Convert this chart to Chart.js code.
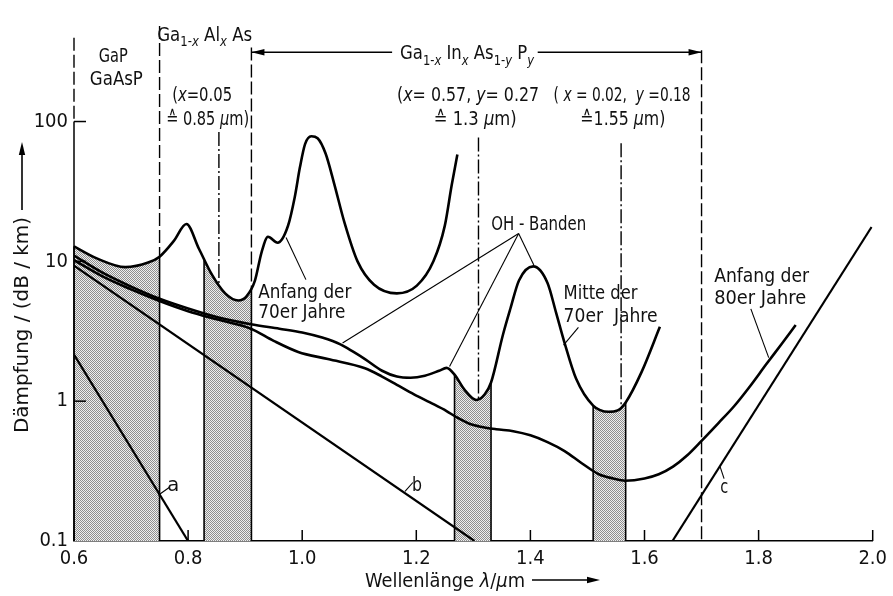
<!DOCTYPE html>
<html>
<head>
<meta charset="utf-8">
<script src="https://cdn.jsdelivr.net/npm/chart.js@4.4.1/dist/chart.umd.min.js"></script>
<style>
  html, body { margin: 0; padding: 0; background: #fff; }
</style>
</head>
<body>
<canvas id="chart" width="893" height="596"></canvas>
<script>
// axis ticks
const xTicks = [0.6, 0.8, 1.0, 1.2, 1.4, 1.6, 1.8, 2.0];
const xTickLabels = ['0.6', '0.8', '1.0', '1.2', '1.4', '1.6', '1.8', '2.0'];
const yTicks = [0.1, 1, 10, 100];
const yTickLabels = ['0.1', '1', '10', '100'];

// wavelength in µm, attenuation in dB/km
const early70Wl = [0.600, 0.640, 0.690, 0.730, 0.750, 0.775, 0.797, 0.819, 0.842, 0.865, 0.888, 0.902, 0.917, 0.929, 0.940, 0.957, 0.975, 0.987, 0.996, 1.005, 1.016, 1.027, 1.041, 1.056, 1.074, 1.097, 1.126, 1.166, 1.201, 1.230, 1.250, 1.262, 1.272];
const early70Db = [12.8, 10.5, 9.1, 9.8, 10.8, 14.0, 18.5, 12.3, 8.0, 5.9, 5.25, 5.6, 7.25, 11.7, 15.0, 13.6, 17.9, 28.9, 47, 69, 78.5, 76, 59, 36, 19, 10, 6.8, 5.9, 6.7, 10, 18, 35, 58];

const mid70Wl = [0.600, 0.650, 0.700, 0.750, 0.800, 0.850, 0.910, 0.960, 1.000, 1.035, 1.067, 1.090, 1.110, 1.140, 1.166, 1.190, 1.215, 1.240, 1.253, 1.267, 1.285, 1.305, 1.320, 1.331, 1.352, 1.365, 1.380, 1.405, 1.430, 1.445, 1.460, 1.480, 1.510, 1.537, 1.553, 1.567, 1.595, 1.627];
const mid70Db = [11.0, 8.3, 6.6, 5.4, 4.6, 4.0, 3.55, 3.3, 3.1, 2.85, 2.55, 2.25, 2.0, 1.65, 1.5, 1.47, 1.52, 1.65, 1.73, 1.55, 1.2, 1.02, 1.12, 1.36, 3.0, 4.6, 7.3, 9.2, 7.0, 4.3, 2.6, 1.45, 0.93, 0.84, 0.86, 0.98, 1.62, 3.4];

const early80Wl = [0.600, 0.650, 0.700, 0.750, 0.800, 0.850, 0.910, 0.950, 0.993, 1.045, 1.110, 1.140, 1.166, 1.196, 1.224, 1.253, 1.270, 1.293, 1.310, 1.340, 1.370, 1.400, 1.430, 1.460, 1.490, 1.520, 1.545, 1.566, 1.600, 1.625, 1.650, 1.675, 1.700, 1.730, 1.757, 1.785, 1.814, 1.840, 1.865];
const early80Db = [10.2, 7.8, 6.3, 5.2, 4.4, 3.85, 3.3, 2.7, 2.25, 2.0, 1.72, 1.5, 1.31, 1.12, 0.98, 0.85, 0.77, 0.69, 0.66, 0.63, 0.61, 0.57, 0.51, 0.44, 0.36, 0.30, 0.28, 0.27, 0.28, 0.30, 0.34, 0.41, 0.52, 0.70, 0.92, 1.28, 1.85, 2.55, 3.5];

// straight limit lines a, b, c
const lineAWl = [0.6, 0.8];
const lineADb = [2.15, 0.1];
const lineBWl = [0.6, 1.302];
const lineBDb = [9.3, 0.1];
const lineCWl = [1.649, 1.998];
const lineCDb = [0.1, 17.6];

// shaded emitter windows (top edge follows the curve)
const band1Wl = [0.600, 0.640, 0.690, 0.730, 0.750];
const band1Db = [12.8, 10.5, 9.1, 9.8, 10.8];
const band2Wl = [0.828, 0.842, 0.865, 0.888, 0.902, 0.911];
const band2Db = [10.2, 8.0, 5.9, 5.25, 5.6, 6.5];
const band3Wl = [1.267, 1.285, 1.305, 1.320, 1.331];
const band3Db = [1.55, 1.2, 1.02, 1.12, 1.36];
const band4Wl = [1.510, 1.537, 1.553, 1.567];
const band4Db = [0.93, 0.84, 0.86, 0.98];

const FONT = '"Liberation Sans Narrow", "DejaVu Sans Condensed", "Liberation Sans", sans-serif';
const DASH = [13, 4];
const DASHDOT = [14, 3, 2, 3];

// stipple pattern for the bands
const tile = document.createElement('canvas');
tile.width = 2; tile.height = 2;
const tctx = tile.getContext('2d');
tctx.fillStyle = '#eeeeee';
tctx.fillRect(0, 0, 2, 2);
tctx.fillStyle = '#8e8e8e';
tctx.fillRect(0, 0, 1, 1);
tctx.fillRect(1, 1, 1, 1);
const stipple = tctx.createPattern(tile, 'repeat');

const pts = (xs, ys) => xs.map((x, i) => ({ x: x, y: ys[i] }));

const curve = (xs, ys, w) => ({
  data: pts(xs, ys), borderColor: '#000', borderWidth: w, pointRadius: 0,
  cubicInterpolationMode: 'monotone', fill: false
});
const straight = (xs, ys) => ({
  data: pts(xs, ys), borderColor: '#000', borderWidth: 2.2, pointRadius: 0, tension: 0, fill: false
});
const band = (xs, ys) => ({
  data: pts(xs, ys), borderColor: 'rgba(0,0,0,0)', borderWidth: 0, pointRadius: 0,
  cubicInterpolationMode: 'monotone', backgroundColor: stipple, fill: 'start'
});

// annotation geometry, in data units (wavelength, dB/km)
const guides = [
  { wl: 0.600, top: 398, bottom: 100, dash: DASH },
  { wl: 0.750, top: 483, bottom: band1Db[band1Db.length - 1], dash: DASH },
  { wl: 0.911, top: 339, bottom: band2Db[band2Db.length - 1], dash: DASH },
  { wl: 0.854, top: 84, bottom: 6.9, dash: DASHDOT },
  { wl: 1.309, top: 77, bottom: 1.02, dash: DASHDOT },
  { wl: 1.559, top: 70, bottom: 0.9, dash: DASHDOT },
  { wl: 1.700, top: 323, bottom: 0.1, dash: DASH }
];
const bands = [[band1Wl, band1Db], [band2Wl, band2Db], [band3Wl, band3Db], [band4Wl, band4Db]];
const leaders = [
  [0.9717, 14.8, 1.0065, 7.4],
  [1.3794, 15.8, 1.0707, 2.61],
  [1.3794, 15.8, 1.2583, 1.77],
  [1.3794, 15.8, 1.406, 9.4],
  [1.4581, 2.52, 1.4842, 3.37],
  [1.7864, 4.57, 1.8177, 2.05],
  [1.7326, 0.339, 1.7395, 0.279],
  [1.1802, 0.226, 1.194, 0.262],
  [0.7476, 0.2125, 0.7668, 0.2416]
];
const spanArrow = { db: 313, from: 0.911, to: 1.700, gapFrom: 1.1576, gapTo: 1.4128 };
const labels = [
  { wl: 0.6434, db: 266.6, w: 29, parts: [['GaP', '']] },
  { wl: 0.6278, db: 181, w: 53, parts: [['GaAsP', '']] },
  { wl: 0.7459, db: 379, w: 95, parts: [['Ga', ''], ['1-', 's'], ['x', 'si'], [' Al', ''], ['x', 'si'], [' As', '']] },
  { wl: 0.772, db: 140, w: 60, parts: [['(', ''], ['x', 'i'], ['=0.05', '']] },
  { wl: 0.7615, db: 93.8, w: 83, parts: [['\u2259 0.85 ', ''], ['\u00b5', 'i'], ['m)', '']] },
  { wl: 1.1715, db: 279.7, w: 134, parts: [['Ga', ''], ['1-', 's'], ['x', 'si'], [' In', ''], ['x', 'si'], [' As', ''], ['1-', 's'], ['y', 'si'], [' P', ''], ['y', 'si']] },
  { wl: 1.1663, db: 140, w: 142, parts: [['(', ''], ['x', 'i'], ['= 0.57, ', ''], ['y', 'i'], ['= 0.27', '']] },
  { wl: 1.2305, db: 93.8, w: 83, parts: [['\u2259 1.3 ', ''], ['\u00b5', 'i'], ['m)', '']] },
  { wl: 1.4407, db: 140, w: 137, parts: [['( ', ''], ['x', 'i'], [' = 0.02,  ', ''], ['y', 'i'], [' =0.18', '']] },
  { wl: 1.4876, db: 93.8, w: 85, parts: [['\u22591.55 ', ''], ['\u00b5', 'i'], ['m)', '']] },
  { wl: 1.3313, db: 16.8, w: 95, parts: [['OH - Banden', '']] },
  { wl: 0.9231, db: 5.46, w: 93, parts: [['Anfang der', '']] },
  { wl: 0.9231, db: 3.96, w: 87, parts: [['70er Jahre', '']] },
  { wl: 1.4581, db: 5.37, w: 74, parts: [['Mitte der', '']] },
  { wl: 1.4581, db: 3.71, w: 94, parts: [['70er  Jahre', '']] },
  { wl: 1.7221, db: 7.17, w: 95, parts: [['Anfang der', '']] },
  { wl: 1.7221, db: 4.95, w: 92, parts: [['80er Jahre', '']] },
  { wl: 0.7633, db: 0.2265, w: 12, parts: [['a', '']] },
  { wl: 1.1923, db: 0.2265, w: 10, parts: [['b', '']] },
  { wl: 1.7326, db: 0.2194, w: 8, parts: [['c', '']] }
];

function rich(ctx, parts, x, y, size, width) {
  const fontOf = st => (st.indexOf('i') >= 0 ? 'italic ' : '') +
    (st.indexOf('s') >= 0 ? Math.round(size * 0.7) : size) + 'px ' + FONT;
  let total = 0;
  const ws = parts.map(p => { ctx.font = fontOf(p[1]); const w = ctx.measureText(p[0]).width; total += w; return w; });
  let k = width ? width / total : 1;
  k = Math.max(0.6, Math.min(1.3, k));
  ctx.save();
  ctx.translate(x, y);
  ctx.scale(k, 1);
  ctx.fillStyle = '#111';
  ctx.textAlign = 'left';
  ctx.textBaseline = 'alphabetic';
  let cx = 0;
  parts.forEach((p, i) => {
    ctx.font = fontOf(p[1]);
    ctx.fillText(p[0], cx, p[1].indexOf('s') >= 0 ? size * 0.28 : 0);
    cx += ws[i];
  });
  ctx.restore();
}

function seg(ctx, x1, y1, x2, y2, w, dash) {
  ctx.save();
  ctx.strokeStyle = '#000';
  ctx.lineWidth = w;
  ctx.setLineDash(dash || []);
  ctx.beginPath();
  ctx.moveTo(x1, y1);
  ctx.lineTo(x2, y2);
  ctx.stroke();
  ctx.restore();
}

function head(ctx, x, y, ang, len, half) {
  ctx.save();
  ctx.translate(x, y);
  ctx.rotate(ang);
  ctx.fillStyle = '#000';
  ctx.beginPath();
  ctx.moveTo(0, 0);
  ctx.lineTo(-len, -half);
  ctx.lineTo(-len, half);
  ctx.closePath();
  ctx.fill();
  ctx.restore();
}

const decor = {
  id: 'decor',
  afterDraw(chart) {
    const ctx = chart.ctx;
    const X = v => chart.scales.x.getPixelForValue(v);
    const Y = v => chart.scales.y.getPixelForValue(v);

    // y axis from 0.1 to 100 and inward ticks
    seg(ctx, X(0.6), Y(0.1), X(0.6), Y(100), 1.5);
    yTicks.slice(1).forEach(v => seg(ctx, X(0.6), Y(v), X(0.6) + 12, Y(v), 1.5));
    xTicks.forEach(v => seg(ctx, X(v), Y(0.1), X(v), Y(0.1) - 11, 1.5));

    // band edges
    bands.forEach(([wl, db]) => {
      const n = wl.length - 1;
      seg(ctx, X(wl[0]), Y(0.1), X(wl[0]), Y(db[0]), 1.6);
      seg(ctx, X(wl[n]), Y(0.1), X(wl[n]), Y(db[n]), 1.6);
    });

    // dashed / dash-dotted guides
    guides.forEach(g => seg(ctx, X(g.wl), Y(g.top), X(g.wl), Y(g.bottom), 1.4, g.dash));

    // span arrow for GaInAsP
    const ay = Y(spanArrow.db);
    seg(ctx, X(spanArrow.from), ay, X(spanArrow.gapFrom), ay, 1.4);
    seg(ctx, X(spanArrow.gapTo), ay, X(spanArrow.to), ay, 1.4);
    head(ctx, X(spanArrow.from), ay, Math.PI, 13, 3.2);
    head(ctx, X(spanArrow.to), ay, 0, 13, 3.2);

    // leader lines
    leaders.forEach(l => seg(ctx, X(l[0]), Y(l[1]), X(l[2]), Y(l[3]), 1.1));

    // text
    labels.forEach(t => rich(ctx, t.parts, X(t.wl), Y(t.db), 20, t.w));

    // axis titles
    ctx.save();
    ctx.translate(28, 433);
    ctx.rotate(-Math.PI / 2);
    rich(ctx, [['D\u00e4mpfung / (dB / km)', '']], 0, 0, 20, 216);
    ctx.restore();
    seg(ctx, 22, 210, 22, 152, 1.6);
    head(ctx, 22, 142, -Math.PI / 2, 13, 3.2);

    rich(ctx, [['Wellenl\u00e4nge ', ''], ['\u03bb', 'i'], ['/', ''], ['\u00b5', 'i'], ['m', '']], 365, 587, 20, 160);
    seg(ctx, 532, 580, 590, 580, 1.6);
    head(ctx, 600, 580, 0, 13, 3.2);
  }
};

new Chart(document.getElementById('chart'), {
  type: 'line',
  data: {
    datasets: [
      curve(early70Wl, early70Db, 2.6),
      curve(mid70Wl, mid70Db, 2.6),
      curve(early80Wl, early80Db, 2.6),
      straight(lineAWl, lineADb),
      straight(lineBWl, lineBDb),
      straight(lineCWl, lineCDb),
      band(band1Wl, band1Db),
      band(band2Wl, band2Db),
      band(band3Wl, band3Db),
      band(band4Wl, band4Db)
    ]
  },
  options: {
    responsive: false,
    animation: false,
    devicePixelRatio: 1,
    layout: { padding: { top: 5, right: 13, bottom: 0, left: 0 } },
    plugins: { legend: { display: false }, tooltip: { enabled: false } },
    scales: {
      x: {
        type: 'linear',
        min: 0.6,
        max: 2.0,
        afterBuildTicks: s => { s.ticks = xTicks.map(v => ({ value: v })); },
        afterFit: s => { s.height = 55; },
        grid: { display: false, drawTicks: false },
        border: { display: true, color: '#000', width: 1.5 },
        ticks: {
          padding: 6,
          color: '#111',
          font: { family: FONT, size: 20 },
          maxRotation: 0,
          callback: (v, i) => xTickLabels[i]
        }
      },
      y: {
        type: 'logarithmic',
        min: 0.1,
        max: 550,
        afterBuildTicks: s => { s.ticks = yTicks.map(v => ({ value: v })); },
        afterFit: s => { s.width = 74; },
        grid: { display: false, drawTicks: false },
        border: { display: false },
        ticks: {
          padding: 6,
          color: '#111',
          font: { family: FONT, size: 20 },
          callback: (v, i) => yTickLabels[i]
        }
      }
    }
  },
  plugins: [decor]
});
</script>
</body>
</html>
